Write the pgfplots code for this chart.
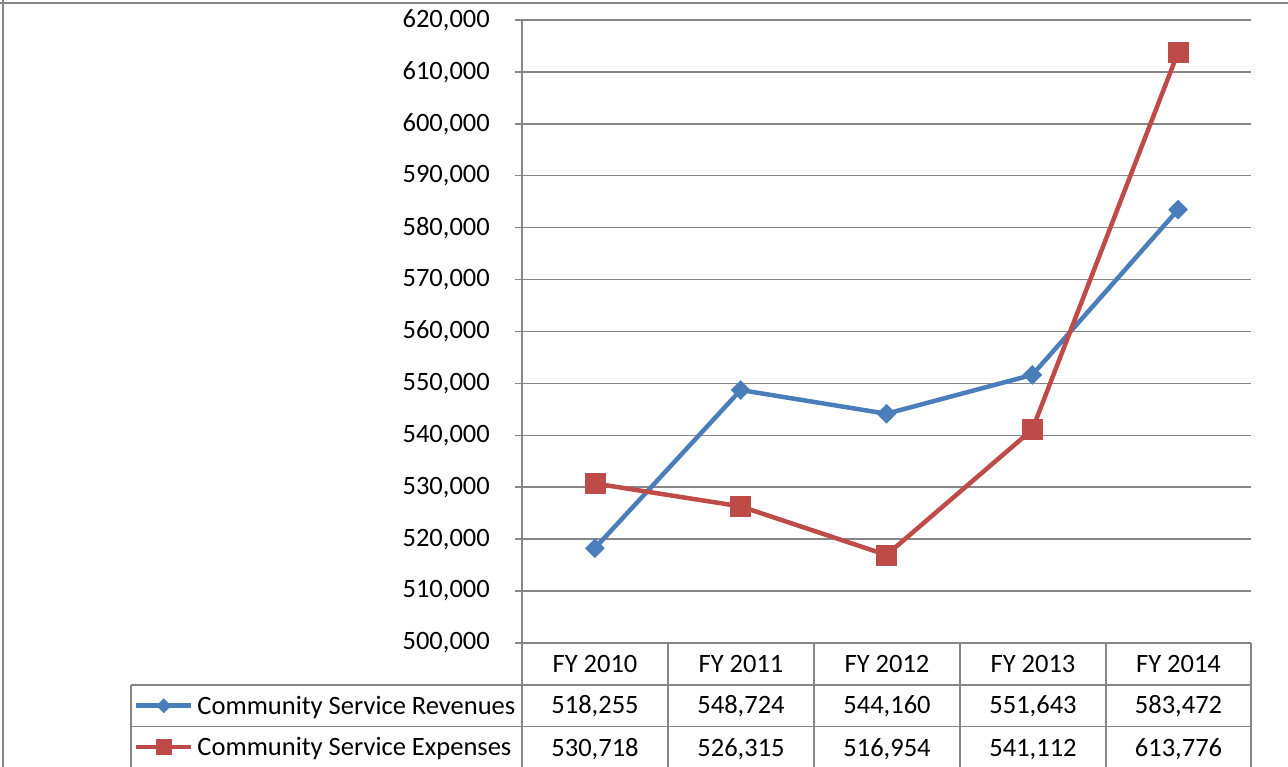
\documentclass[border=0pt]{standalone}
\usepackage{pgfplots}
\pgfplotsset{compat=1.18}
\usepackage{fontspec}
\setmainfont{Carlito}
\definecolor{rev}{RGB}{74,126,187}
\definecolor{expc}{RGB}{190,75,72}
\definecolor{gridc}{RGB}{134,134,134}
\newcommand{\tf}{\fontsize{26.5}{30}\selectfont}
\begin{document}
\begin{tikzpicture}[x=1pt,y=1pt,font=\tf]
\useasboundingbox (0,0) rectangle (1288,767);
\draw[gridc, line width=1.5pt] (0,764) -- (1288,764);
\draw[gridc, line width=1.5pt] (3,767) -- (3,0);
\begin{axis}[
  at={(522pt,124pt)}, anchor=south west,
  scale only axis, width=729pt, height=623pt,
  xmin=-0.5, xmax=4.5, ymin=500000, ymax=620000,
  xtick=\empty,
  ytick={500000,510000,...,620000},
  axis lines*=left,
  axis line style={gridc, line width=1.5pt},
  ymajorgrids, grid style={gridc, line width=1.5pt},
  tick style={gridc, line width=1.5pt},
  tick align=outside, major tick length=7pt, ytick pos=left,
  scaled y ticks=false,
  yticklabel style={/pgf/number format/fixed, /pgf/number format/1000 sep={,}, /pgf/number format/assume math mode=true, font=\tf, inner sep=0pt, anchor=east, xshift=-25pt},
  clip=false,
  legend style={at={(axis description cs:-0.53224,-0.067416)}, anchor=north west,
    draw=none, fill=none, inner sep=0pt, outer sep=0pt, font=\tf,
    row sep=0pt,
    /tikz/every odd column/.append style={column sep=4pt},
    nodes={inner sep=0pt, text height=29.5pt, text depth=12pt}},
  legend cell align=left,
  legend image code/.code={\draw[mark repeat=2, mark phase=2, #1, every mark/.append style={scale=0.75}] plot coordinates {(0pt,0pt) (27.5pt,0pt) (55pt,0pt)};},
]
\addplot[rev, line width=4.5pt, mark=square*, mark size=6.7pt, mark options={rotate=45, line width=0.5pt}]
  coordinates {(0,518255) (1,548724) (2,544160) (3,551643) (4,583472)};
\addplot[expc, line width=4.5pt, mark=square*, mark size=10pt, mark options={line width=0.5pt}]
  coordinates {(0,530718) (1,526315) (2,516954) (3,541112) (4,613776)};
\legend{Community Service Revenues, Community Service Expenses}
\end{axis}
% data table grid
\draw[gridc, line width=1.5pt] (131,82) -- (1251,82);
\draw[gridc, line width=1.5pt] (131,40.3) -- (1251,40.3);
\draw[gridc, line width=1.5pt] (131,82) -- (131,0);
\foreach \xx in {522,668,814,960,1106,1251} {\draw[gridc, line width=1.5pt] (\xx,124) -- (\xx,0);}
% header
\node[anchor=base, inner sep=0pt] at (595,94) {FY 2010};
\node[anchor=base, inner sep=0pt] at (741,94) {FY 2011};
\node[anchor=base, inner sep=0pt] at (887,94) {FY 2012};
\node[anchor=base, inner sep=0pt] at (1033,94) {FY 2013};
\node[anchor=base, inner sep=0pt] at (1178.5,94) {FY 2014};
% revenues row
\node[anchor=base, inner sep=0pt] at (595,53) {518,255};
\node[anchor=base, inner sep=0pt] at (741,53) {548,724};
\node[anchor=base, inner sep=0pt] at (887,53) {544,160};
\node[anchor=base, inner sep=0pt] at (1033,53) {551,643};
\node[anchor=base, inner sep=0pt] at (1178.5,53) {583,472};
% expenses row
\node[anchor=base, inner sep=0pt] at (595,10) {530,718};
\node[anchor=base, inner sep=0pt] at (741,10) {526,315};
\node[anchor=base, inner sep=0pt] at (887,10) {516,954};
\node[anchor=base, inner sep=0pt] at (1033,10) {541,112};
\node[anchor=base, inner sep=0pt] at (1178.5,10) {613,776};
\end{tikzpicture}
\end{document}
